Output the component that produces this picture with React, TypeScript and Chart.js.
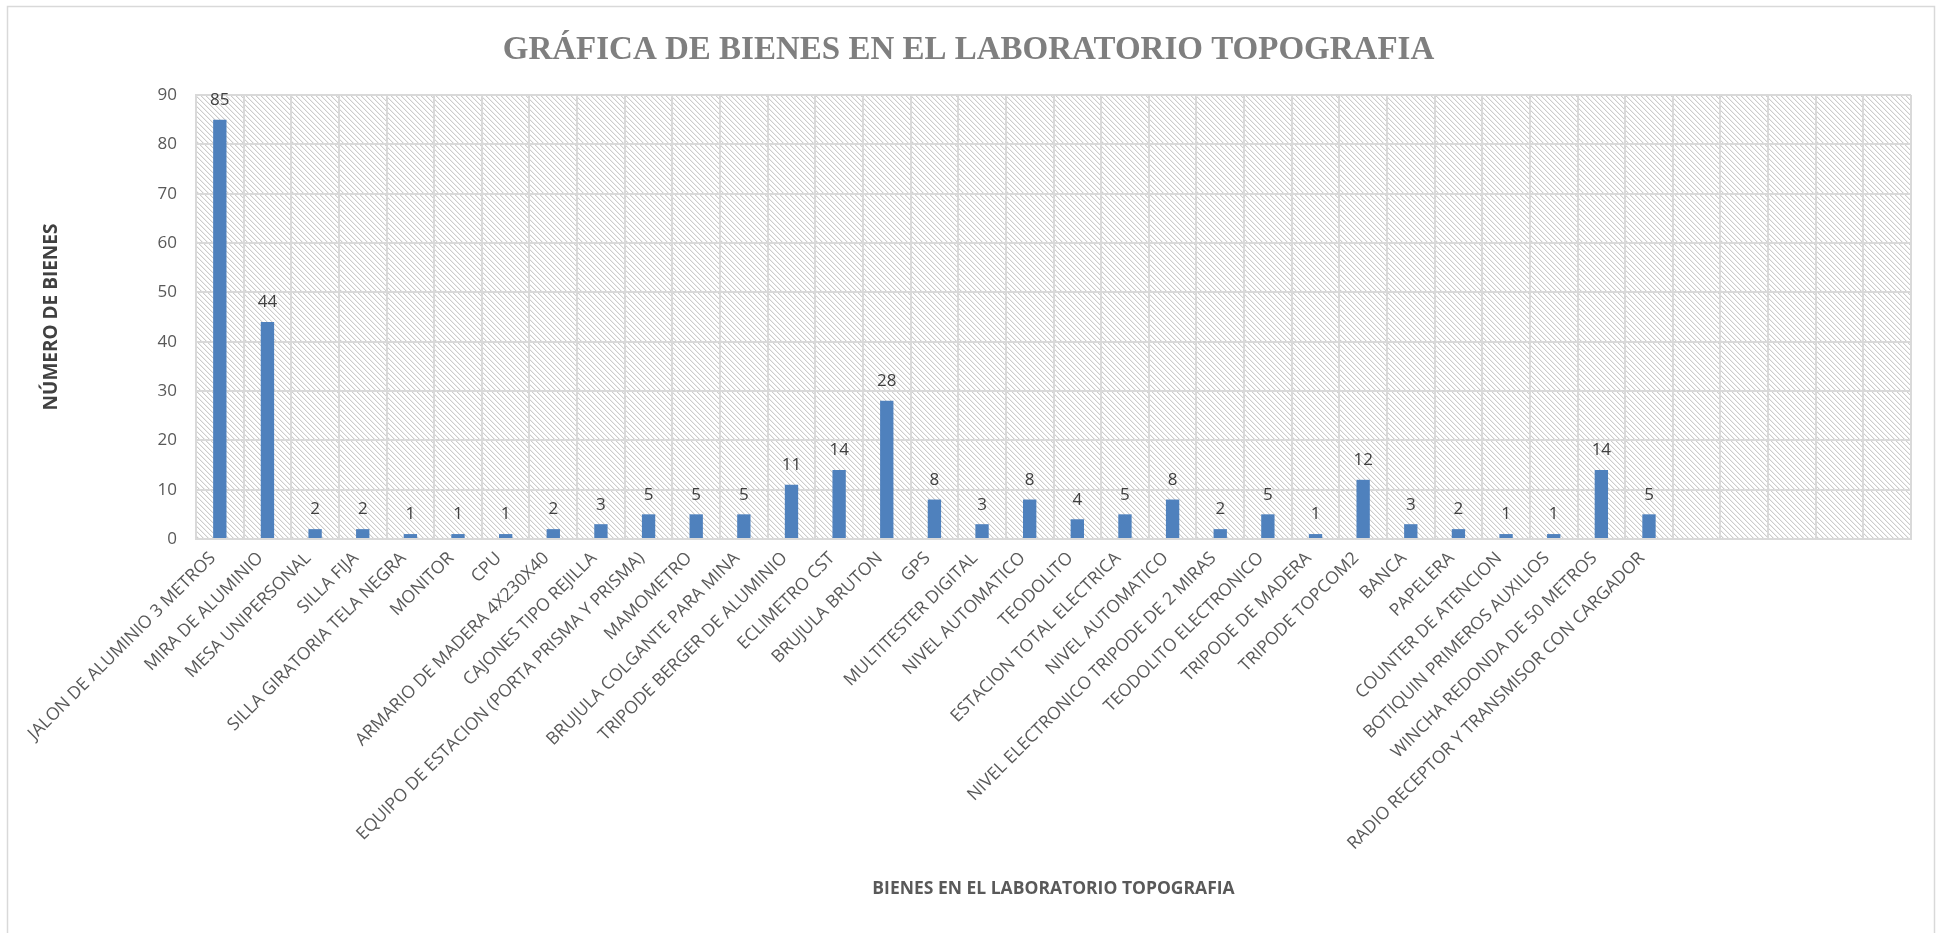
import React, { useEffect, useRef } from "react";
import { Chart, registerables } from "chart.js";

Chart.register(...registerables);

const chartTitle = "GRÁFICA DE BIENES EN EL LABORATORIO TOPOGRAFIA";
const xAxisTitle = "BIENES EN EL LABORATORIO TOPOGRAFIA";
const yAxisTitle = "NÚMERO DE BIENES";

const categories = [
  "JALON DE ALUMINIO 3 METROS",
  "MIRA DE ALUMINIO",
  "MESA UNIPERSONAL",
  "SILLA FIJA",
  "SILLA GIRATORIA TELA NEGRA",
  "MONITOR",
  "CPU",
  "ARMARIO DE MADERA 4X230X40",
  "CAJONES TIPO REJILLA",
  "EQUIPO DE ESTACION (PORTA PRISMA Y PRISMA)",
  "MAMOMETRO",
  "BRUJULA COLGANTE PARA MINA",
  "TRIPODE BERGER DE ALUMINIO",
  "ECLIMETRO CST",
  "BRUJULA BRUTON",
  "GPS",
  "MULTITESTER DIGITAL",
  "NIVEL AUTOMATICO",
  "TEODOLITO",
  "ESTACION TOTAL ELECTRICA",
  "NIVEL AUTOMATICO",
  "NIVEL ELECTRONICO TRIPODE DE 2 MIRAS",
  "TEODOLITO ELECTRONICO",
  "TRIPODE DE MADERA",
  "TRIPODE TOPCOM2",
  "BANCA",
  "PAPELERA",
  "COUNTER DE ATENCION",
  "BOTIQUIN PRIMEROS AUXILIOS",
  "WINCHA REDONDA DE 50 METROS",
  "RADIO RECEPTOR Y TRANSMISOR CON CARGADOR",
  "",
  "",
  "",
  "",
  "",
];

const values: (number | null)[] = [
  85, 44, 2, 2, 1, 1, 1, 2, 3, 5, 5, 5, 11, 14, 28, 8, 3, 8, 4, 5, 8, 2, 5, 1,
  12, 3, 2, 1, 1, 14, 5, null, null, null, null, null,
];

const yMin = 0;
const yMax = 90;
const yStep = 10;

const W = 1937;
const H = 933;

function makeHatch(): CanvasPattern | string {
  const s = 5;
  const c = document.createElement("canvas");
  c.width = s;
  c.height = s;
  const cx = c.getContext("2d");
  if (!cx) return "#f0f0f0";
  cx.fillStyle = "#ffffff";
  cx.fillRect(0, 0, s, s);
  const img = cx.getImageData(0, 0, s, s);
  const setPx = (x: number, y: number, g: number) => {
    const idx = (((y + s) % s) * s + ((x + s) % s)) * 4;
    img.data[idx] = g;
    img.data[idx + 1] = g;
    img.data[idx + 2] = g;
    img.data[idx + 3] = 255;
  };
  for (let i = 0; i < s; i++) {
    setPx(i + 1, i, 238);
    setPx(i, i, 204);
  }
  cx.putImageData(img, 0, 0);
  const p = cx.createPattern(c, "repeat");
  return p || "#f0f0f0";
}

const hatchPlugin = {
  id: "hatchBg",
  beforeDraw(chart: any) {
    const { ctx, chartArea } = chart;
    if (!chartArea) return;
    ctx.save();
    ctx.fillStyle = "#ffffff";
    ctx.fillRect(0, 0, chart.width, chart.height);
    ctx.fillStyle = makeHatch();
    ctx.fillRect(
      chartArea.left,
      chartArea.top,
      chartArea.right - chartArea.left,
      chartArea.bottom - chartArea.top
    );
    // outer frame
    ctx.strokeStyle = "#d9d9d9";
    ctx.lineWidth = 1.5;
    ctx.beginPath();
    ctx.moveTo(7.5, H);
    ctx.lineTo(7.5, 6.5);
    ctx.lineTo(1934.5, 6.5);
    ctx.lineTo(1934.5, H);
    ctx.stroke();
    ctx.restore();
  },
};

const valueLabelPlugin = {
  id: "valueLabels",
  afterDatasetsDraw(chart: any) {
    const { ctx } = chart;
    const meta = chart.getDatasetMeta(0);
    const data = chart.data.datasets[0].data;
    ctx.save();
    ctx.font = "17px 'Open Sans', 'Noto Sans', sans-serif";
    ctx.fillStyle = "#404040";
    ctx.textAlign = "center";
    ctx.textBaseline = "bottom";
    meta.data.forEach((el: any, i: number) => {
      const v = data[i];
      if (v === null || v === undefined) return;
      ctx.fillText(String(v), el.x, el.y - 11);
    });
    ctx.restore();
  },
};

export default function App() {
  const ref = useRef<HTMLCanvasElement | null>(null);

  useEffect(() => {
    if (!ref.current) return;
    const fam = "'Open Sans', 'Noto Sans', sans-serif";
    const chart = new Chart(ref.current, {
      type: "bar",
      data: {
        labels: categories,
        datasets: [
          {
            data: values,
            backgroundColor: "#4f81bd",
            borderWidth: 0,
            barPercentage: 0.28,
            categoryPercentage: 1,
          },
        ],
      },
      options: {
        animation: false,
        responsive: true,
        maintainAspectRatio: false,
        layout: { padding: { left: 26, right: 26, top: 0, bottom: 0 } },
        plugins: {
          legend: { display: false },
          tooltip: { enabled: false },
          title: {
            display: true,
            text: chartTitle,
            color: "#7f7f7f",
            font: { family: "'Liberation Serif', 'DejaVu Serif', serif", size: 33, weight: "bold" },
            padding: { top: 31, bottom: 24.4 },
          },
        },
        scales: {
          x: {
            type: "category",
            offset: true,
            grid: {
              offset: true,
              color: "#d9d9d9",
              lineWidth: 2,
              drawTicks: false,
            },
            border: { display: true, color: "#d9d9d9", width: 2 },
            ticks: {
              autoSkip: false,
              maxRotation: 45,
              minRotation: 45,
              color: "#595959",
              font: { family: fam, size: 17.5 },
              padding: 9,
              labelOffset: -7,
            },
            title: {
              display: true,
              text: xAxisTitle,
              color: "#595959",
              font: { family: fam, size: 17.5, weight: "bold" },
              padding: { top: 0, bottom: 33 },
            },
            afterFit: (s: any) => {
              s.height = H - 539;
            },
          },
          y: {
            min: yMin,
            max: yMax,
            ticks: {
              stepSize: yStep,
              color: "#595959",
              font: { family: fam, size: 17 },
              padding: 19,
            },
            grid: {
              color: "#d9d9d9",
              lineWidth: 2,
              drawTicks: false,
            },
            border: { display: true, color: "#d9d9d9", width: 2 },
            title: {
              display: true,
              text: yAxisTitle,
              color: "#404040",
              font: { family: fam, size: 19, weight: "bold" },
              padding: { top: 14.6, bottom: 0 },
            },
            afterFit: (s: any) => {
              s.width = 170;
            },
          },
        },
      },
      plugins: [hatchPlugin, valueLabelPlugin],
    });
    return () => chart.destroy();
  }, []);

  return (
    <div
      style={{
        position: "fixed",
        left: 0,
        top: 0,
        width: W,
        height: H,
        background: "#ffffff",
      }}
    >
      <canvas ref={ref} />
    </div>
  );
}
